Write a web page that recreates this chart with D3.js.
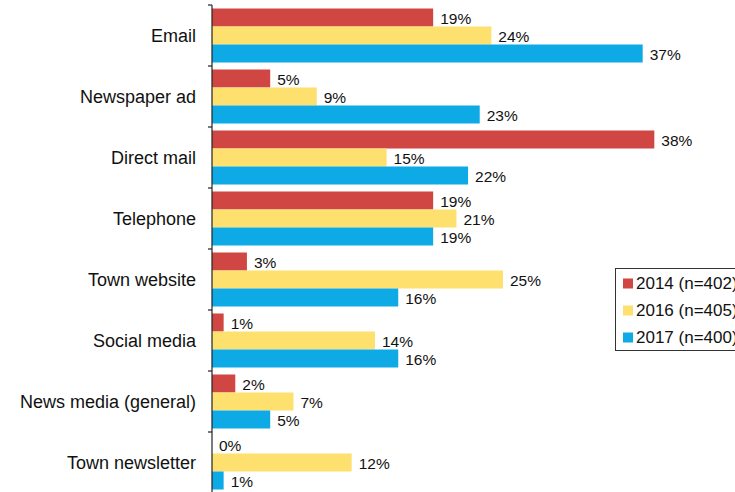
<!DOCTYPE html>
<html>
<head>
<meta charset="utf-8">
<script src="https://cdn.jsdelivr.net/npm/d3@7"></script>
<style>
  html, body { margin: 0; padding: 0; background: #fff; }
  svg { display: block; font-family: "Liberation Sans", Arial, sans-serif; }
</style>
</head>
<body>
<svg id="chart" width="735" height="492"></svg>
<script>
const categories = ["Email", "Newspaper ad", "Direct mail", "Telephone", "Town website", "Social media", "News media (general)", "Town newsletter"];
const seriesNames = ["2014 (n=402)", "2016 (n=405)", "2017 (n=400)"];
const seriesColors = ["#D04642", "#FDE06E", "#0EAAE6"];
const values2014 = [19, 5, 38, 19, 3, 1, 2, 0];
const values2016 = [24, 9, 15, 21, 25, 14, 7, 12];
const values2017 = [37, 23, 22, 19, 16, 16, 5, 1];
const seriesValues = [values2014, values2016, values2017];

const svg = d3.select("#chart");

const x = d3.scaleLinear().domain([0, 40]).range([212, 212 + 465.6]);
const y = d3.scaleBand().domain(categories).range([5, 493]).padding(0);
const ySub = d3.scaleBand().domain(d3.range(seriesNames.length)).range([3.5, y.bandwidth() - 3.5]).padding(0);

const data = [];
categories.forEach((c, i) => {
  seriesValues.forEach((vals, s) => {
    data.push({ cat: c, s: s, v: vals[i] });
  });
});

// bars
svg.append("g").selectAll("rect").data(data).join("rect")
  .attr("x", x(0))
  .attr("y", d => y(d.cat) + ySub(d.s))
  .attr("width", d => x(d.v) - x(0))
  .attr("height", ySub.bandwidth())
  .attr("fill", d => seriesColors[d.s]);

// value labels
svg.append("g").selectAll("text").data(data).join("text")
  .attr("x", d => x(d.v) + 7)
  .attr("y", d => y(d.cat) + ySub(d.s) + ySub.bandwidth() / 2 + 6.5)
  .attr("font-size", "15.5px")
  .attr("fill", "#111")
  .text(d => d.v + "%");

// axis line and ticks
const axisG = svg.append("g");
axisG.append("line")
  .attr("x1", x(0)).attr("x2", x(0))
  .attr("y1", y.range()[0]).attr("y2", y.range()[1])
  .attr("stroke", "#222").attr("stroke-width", 1.2);
const tickYs = categories.map(c => y(c)).concat([y.range()[1]]);
axisG.selectAll("line.tick").data(tickYs).join("line")
  .attr("class", "tick")
  .attr("x1", x(0) - 4).attr("x2", x(0))
  .attr("y1", d => d).attr("y2", d => d)
  .attr("stroke", "#222").attr("stroke-width", 1.2);

// category labels
svg.append("g").selectAll("text").data(categories).join("text")
  .attr("x", 196)
  .attr("y", d => y(d) + y.bandwidth() / 2 + 6.5)
  .attr("text-anchor", "end")
  .attr("font-size", "18px")
  .attr("fill", "#111")
  .text(d => d);

// legend
const lg = svg.append("g");
lg.append("rect")
  .attr("x", 615.5).attr("y", 268.5)
  .attr("width", 140).attr("height", 82)
  .attr("fill", "#fff").attr("stroke", "#333").attr("stroke-width", 1);
const items = lg.selectAll("g.item").data(seriesNames).join("g").attr("class", "item")
  .attr("transform", (d, i) => `translate(0, ${i * 27})`);
items.append("rect")
  .attr("x", 623).attr("y", 278.5)
  .attr("width", 10).attr("height", 10)
  .attr("fill", (d, i) => seriesColors[i]);
items.append("text")
  .attr("x", 636).attr("y", 288.5)
  .attr("font-size", "17px")
  .attr("fill", "#111")
  .text(d => d);
</script>
</body>
</html>
